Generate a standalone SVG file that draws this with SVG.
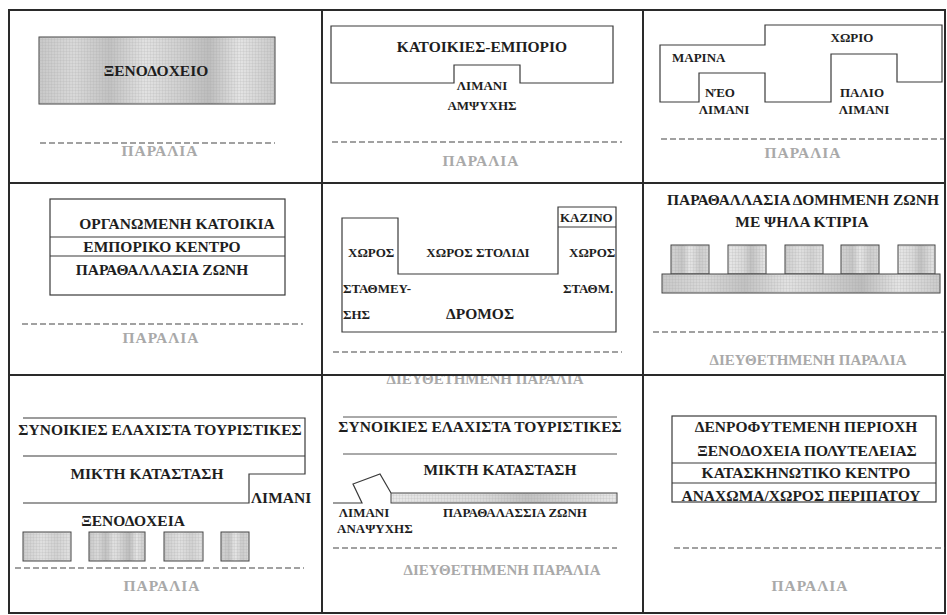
<svg xmlns="http://www.w3.org/2000/svg" width="947" height="615" viewBox="0 0 947 615">
<style>
  .frame { fill: none; stroke: #2a2a2a; stroke-width: 2; }
  .ln { fill: none; stroke: #3a3a3a; stroke-width: 1.2; }
  .thin { fill: none; stroke: #555; stroke-width: 1; }
  .dash { fill: none; stroke: #444; stroke-width: 1.2; stroke-dasharray: 6 3; }
  .t { font-family: "Liberation Serif", "Times New Roman", "DejaVu Serif", serif; font-weight: bold; fill: #1e1e1e; }
  .big { font-size: 15.5px; }
  .sm { font-size: 13px; }
  .g { font-family: "Liberation Serif", "Times New Roman", "DejaVu Serif", serif; font-size: 15px; font-weight: bold; fill: #a9a9a9; }
  .p { font-size: 15.5px; letter-spacing: 1px; }
  .mid { text-anchor: middle; }
  .sh { stroke: #444; stroke-width: 1; }
  .tex { fill: url(#texture); stroke: none; }
</style>
<defs>
  <linearGradient id="gr1" x1="0" y1="0" x2="1" y2="0">
    <stop offset="0" stop-color="#c8c8c8"/>
    <stop offset="0.15" stop-color="#d9d9d9"/>
    <stop offset="0.3" stop-color="#c2c2c2"/>
    <stop offset="0.45" stop-color="#e2e2e2"/>
    <stop offset="0.6" stop-color="#cfcfcf"/>
    <stop offset="0.72" stop-color="#bdbdbd"/>
    <stop offset="0.85" stop-color="#e4e4e4"/>
    <stop offset="1" stop-color="#cacaca"/>
  </linearGradient>
  <linearGradient id="gr2" x1="0" y1="0" x2="1" y2="0">
    <stop offset="0" stop-color="#cdcdcd"/>
    <stop offset="0.4" stop-color="#e0e0e0"/>
    <stop offset="0.7" stop-color="#d2d2d2"/>
    <stop offset="1" stop-color="#e2e2e2"/>
  </linearGradient>
  <linearGradient id="gr3" x1="0" y1="0" x2="1" y2="0">
    <stop offset="0" stop-color="#d4d4d4"/>
    <stop offset="0.3" stop-color="#c6c6c6"/>
    <stop offset="0.5" stop-color="#e6e6e6"/>
    <stop offset="0.75" stop-color="#cccccc"/>
    <stop offset="1" stop-color="#d8d8d8"/>
  </linearGradient>
  <linearGradient id="gr4" x1="0" y1="0" x2="1" y2="0">
    <stop offset="0" stop-color="#e8e8e8"/>
    <stop offset="0.4" stop-color="#dadada"/>
    <stop offset="0.6" stop-color="#c2c2c2"/>
    <stop offset="0.8" stop-color="#d4d4d4"/>
    <stop offset="1" stop-color="#e8e8e8"/>
  </linearGradient>
  <pattern id="texture" width="3" height="3" patternUnits="userSpaceOnUse">
    <path d="M0 0.5H3M0.5 0V3" stroke="#9a9a9a" stroke-width="0.5" stroke-opacity="0.3" fill="none"/>
  </pattern>
</defs>

<rect x="0" y="0" width="947" height="615" fill="#ffffff"/>

<g id="frame">
  <rect class="frame" x="9" y="10" width="936" height="603"/>
  <line class="frame" x1="322" y1="10" x2="322" y2="613"/>
  <line class="frame" x1="643" y1="10" x2="643" y2="613"/>
  <line class="frame" x1="9" y1="183" x2="945" y2="183"/>
</g>

<!-- Panel 1 -->
<g id="panel1">
  <rect class="sh" fill="url(#gr1)" x="39" y="37" width="236" height="67"/>
  <rect class="tex" x="39" y="37" width="236" height="67"/>
  <text class="t big mid" x="156" y="76">ΞΕΝΟΔΟΧΕΙΟ</text>
  <line class="dash" x1="40" y1="143" x2="275" y2="143"/>
  <text class="g p mid" x="160" y="156">ΠΑΡΑΛΙΑ</text>
</g>

<!-- Panel 2 -->
<g id="panel2">
  <path class="ln" d="M331 26H613V83H520V65H454V83H331Z"/>
  <text class="t big mid" x="482" y="52">ΚΑΤΟΙΚΙΕΣ-ΕΜΠΟΡΙΟ</text>
  <text class="t sm mid" x="482" y="90">ΛΙΜΑΝΙ</text>
  <text class="t sm mid" x="482" y="110">ΑΜΨΥΧΗΣ</text>
  <line class="dash" x1="332" y1="142" x2="622" y2="142"/>
  <text class="g p mid" x="481" y="166">ΠΑΡΑΛΙΑ</text>
</g>

<!-- Panel 3 -->
<g id="panel3">
  <path class="ln" d="M660 45H765V25H942V82H897V54H831V102H765V73H699V102H660Z"/>
  <text class="t sm" x="672" y="62">ΜΑΡΙΝΑ</text>
  <text class="t sm mid" x="852" y="42">ΧΩΡΙΟ</text>
  <text class="t sm mid" x="720" y="97">ΝΈΟ</text>
  <text class="t sm mid" x="724" y="114">ΛΙΜΑΝΙ</text>
  <text class="t sm mid" x="862" y="97">ΠΑΛΙΟ</text>
  <text class="t sm mid" x="864" y="114">ΛΙΜΑΝΙ</text>
  <line class="dash" x1="661" y1="139" x2="945" y2="139"/>
  <text class="g p mid" x="803" y="158">ΠΑΡΑΛΙΑ</text>
</g>

<!-- Panel 4 -->
<g id="panel4">
  <rect class="ln" x="50" y="199" width="235" height="96"/>
  <line class="ln" x1="50" y1="237" x2="285" y2="237"/>
  <line class="ln" x1="50" y1="256" x2="285" y2="256"/>
  <text class="t big mid" x="177" y="229">ΟΡΓΑΝΩΜΕΝΗ ΚΑΤΟΙΚΙΑ</text>
  <text class="t big mid" x="162" y="252">ΕΜΠΟΡΙΚΟ ΚΕΝΤΡΟ</text>
  <text class="t big mid" x="162" y="275">ΠΑΡΑΘΑΛΛΑΣΙΑ ΖΩΝΗ</text>
  <line class="dash" x1="22" y1="324" x2="303" y2="324"/>
  <text class="g p mid" x="161" y="343">ΠΑΡΑΛΙΑ</text>
</g>

<!-- Panel 5 -->
<g id="panel5">
  <path class="ln" d="M342 218H398V274H558V207H616V332H342Z"/>
  <line class="ln" x1="558" y1="227" x2="616" y2="227"/>
  <text class="t sm" x="560" y="222">ΚΑΖΙΝΟ</text>
  <text class="t sm" x="348" y="257">ΧΩΡΟΣ</text>
  <text class="t sm mid" x="478" y="257">ΧΩΡΟΣ ΣΤΟΛΙΔΙ</text>
  <text class="t sm" x="569" y="257">ΧΩΡΟΣ</text>
  <text class="t sm" x="343" y="293">ΣΤΑΘΜΕΥ-</text>
  <text class="t sm" x="563" y="293">ΣΤΑΘΜ.</text>
  <text class="t sm" x="343" y="319">ΣΗΣ</text>
  <text class="t big mid" x="480" y="319">ΔΡΟΜΟΣ</text>
  <line class="dash" x1="333" y1="352" x2="622" y2="352"/>
  <text class="g mid" x="485" y="384">ΔΙΕΥΘΕΤΗΜΕΝΗ ΠΑΡΑΛΙΑ</text>
</g>

<!-- Panel 6 -->
<g id="panel6">
  <text class="t big mid" x="803" y="205">ΠΑΡΑΘΑΛΛΑΣΙΑ ΔΟΜΗΜΕΝΗ ΖΩΝΗ</text>
  <text class="t big mid" x="802" y="227">ΜΕ ΨΗΛΑ ΚΤΙΡΙΑ</text>
  <rect class="sh" fill="url(#gr3)" x="671" y="245" width="38" height="29"/>
  <rect class="tex" x="671" y="245" width="38" height="29"/>
  <rect class="sh" fill="url(#gr4)" x="728" y="245" width="38" height="29"/>
  <rect class="tex" x="728" y="245" width="38" height="29"/>
  <rect class="sh" fill="url(#gr2)" x="785" y="245" width="38" height="29"/>
  <rect class="tex" x="785" y="245" width="38" height="29"/>
  <rect class="sh" fill="url(#gr3)" x="841" y="245" width="38" height="29"/>
  <rect class="tex" x="841" y="245" width="38" height="29"/>
  <rect class="sh" fill="url(#gr4)" x="898" y="245" width="37" height="29"/>
  <rect class="tex" x="898" y="245" width="37" height="29"/>
  <rect class="sh" fill="url(#gr1)" x="662" y="274" width="278" height="19"/>
  <rect class="tex" x="662" y="274" width="278" height="19"/>
  <line class="dash" x1="653" y1="332" x2="945" y2="332"/>
  <text class="g mid" x="808" y="365">ΔΙΕΥΘΕΤΗΜΕΝΗ ΠΑΡΑΛΙΑ</text>
</g>

<line class="frame" x1="9" y1="375" x2="945" y2="375"/>

<!-- Panel 7 -->
<g id="panel7">
  <path class="ln" d="M23 418H305V474H249V503H23"/>
  <line class="ln" x1="23" y1="456" x2="305" y2="456"/>
  <text class="t big mid" x="160" y="435">ΣΥΝΟΙΚΙΕΣ ΕΛΑΧΙΣΤΑ ΤΟΥΡΙΣΤΙΚΕΣ</text>
  <text class="t big mid" x="147" y="479">ΜΙΚΤΗ ΚΑΤΑΣΤΑΣΗ</text>
  <text class="t big" x="251" y="503">ΛΙΜΑΝΙ</text>
  <text class="t big mid" x="133" y="526">ΞΕΝΟΔΟΧΕΙΑ</text>
  <rect class="sh" fill="url(#gr2)" x="23" y="532" width="48" height="29"/>
  <rect class="tex" x="23" y="532" width="48" height="29"/>
  <rect class="sh" fill="url(#gr1)" x="89" y="532" width="56" height="29"/>
  <rect class="tex" x="89" y="532" width="56" height="29"/>
  <rect class="sh" fill="url(#gr2)" x="164" y="532" width="39" height="29"/>
  <rect class="tex" x="164" y="532" width="39" height="29"/>
  <rect class="sh" fill="url(#gr3)" x="221" y="532" width="28" height="29"/>
  <rect class="tex" x="221" y="532" width="28" height="29"/>
  <line class="dash" x1="15" y1="568" x2="304" y2="568"/>
  <text class="g p mid" x="162" y="591">ΠΑΡΑΛΙΑ</text>
</g>

<!-- Panel 8 -->
<g id="panel8">
  <line class="thin" x1="343" y1="417" x2="617" y2="417"/>
  <text class="t big mid" x="480" y="432">ΣΥΝΟΙΚΙΕΣ ΕΛΑΧΙΣΤΑ ΤΟΥΡΙΣΤΙΚΕΣ</text>
  <line class="thin" x1="343" y1="454" x2="617" y2="454"/>
  <text class="t big mid" x="500" y="475">ΜΙΚΤΗ ΚΑΤΑΣΤΑΣΗ</text>
  <polyline class="ln" points="333,503 362,503 353,484 380,474 391,493"/>
  <rect class="sh" fill="url(#gr4)" x="391" y="493" width="226" height="10"/>
  <rect class="tex" x="391" y="493" width="226" height="10"/>
  <text class="t sm mid" x="364" y="517">ΛΙΜΑΝΙ</text>
  <text class="t sm" x="337" y="533">ΑΝΑΨΥΧΗΣ</text>
  <text class="t sm mid" x="515" y="517">ΠΑΡΑΘΑΛΑΣΣΙΑ ΖΩΝΗ</text>
  <line class="dash" x1="333" y1="548" x2="617" y2="548"/>
  <text class="g mid" x="502" y="575">ΔΙΕΥΘΕΤΗΜΕΝΗ ΠΑΡΑΛΙΑ</text>
</g>

<!-- Panel 9 -->
<g id="panel9">
  <rect class="ln" x="672" y="416" width="264" height="86"/>
  <line class="ln" x1="672" y1="463" x2="936" y2="463"/>
  <line class="ln" x1="672" y1="483" x2="936" y2="483"/>
  <text class="t big mid" x="806" y="432">ΔΕΝΡΟΦΥΤΕΜΕΝΗ ΠΕΡΙΟΧΗ</text>
  <text class="t big mid" x="807" y="456">ΞΕΝΟΔΟΧΕΙΑ ΠΟΛΥΤΕΛΕΙΑΣ</text>
  <text class="t big mid" x="806" y="478">ΚΑΤΑΣΚΗΝΩΤΙΚΟ ΚΕΝΤΡΟ</text>
  <text class="t big mid" x="801" y="501">ΑΝΑΧΩΜΑ/ΧΩΡΟΣ ΠΕΡΙΠΑΤΟΥ</text>
  <line class="dash" x1="674" y1="548" x2="945" y2="548"/>
  <text class="g p mid" x="810" y="591">ΠΑΡΑΛΙΑ</text>
</g>
</svg>
